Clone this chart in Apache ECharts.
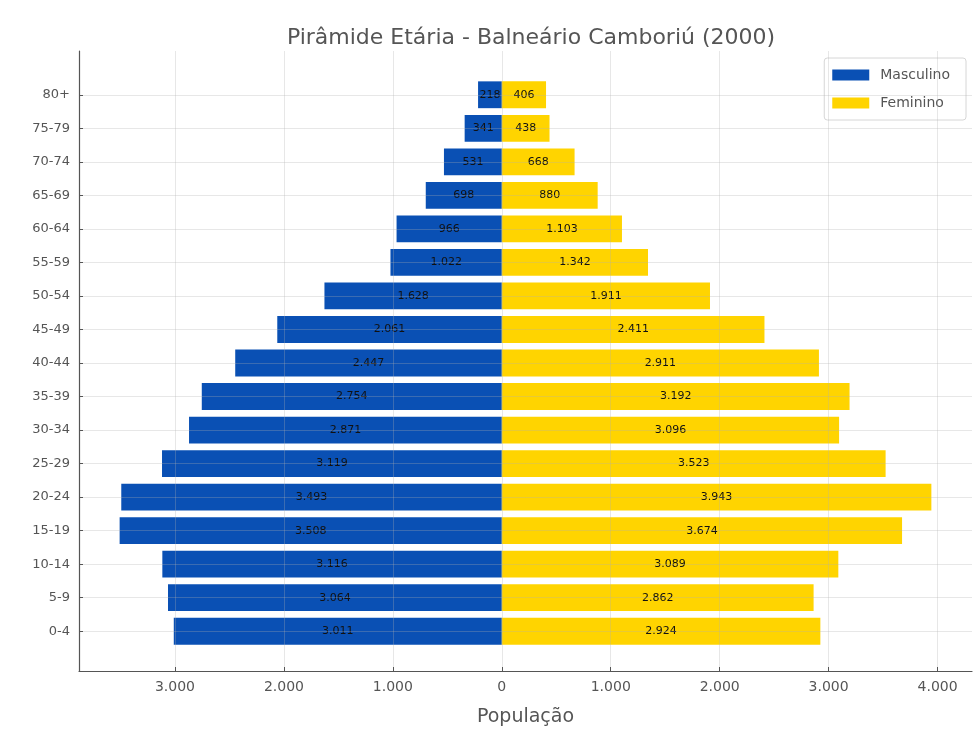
<!DOCTYPE html>
<html>
<head>
<meta charset="utf-8">
<script src="https://cdn.jsdelivr.net/npm/echarts@6/dist/echarts.min.js"></script>
<style>
  html, body { margin: 0; padding: 0; background: #fff; }
  #main { width: 975px; height: 738px; }
</style>
</head>
<body>
<div id="main"></div>
<script>
// faixas etárias, de baixo (0-4) para cima (80+)
var faixas = ['0-4', '5-9', '10-14', '15-19', '20-24', '25-29', '30-34', '35-39', '40-44',
  '45-49', '50-54', '55-59', '60-64', '65-69', '70-74', '75-79', '80+'];
var masculino = [3011, 3064, 3116, 3508, 3493, 3119, 2871, 2754, 2447,
  2061, 1628, 1022, 966, 698, 531, 341, 218];
var feminino = [2924, 2862, 3089, 3674, 3943, 3523, 3096, 3192, 2911,
  2411, 1911, 1342, 1103, 880, 668, 438, 406];

var xMin = -3881, xMax = 4316;

function fmt(v) {
  v = Math.abs(Math.round(v));
  return String(v).replace(/\B(?=(\d{3})+(?!\d))/g, '.');
}

var myChart = echarts.init(document.getElementById('main'));
myChart.setOption({
  animation: false,
  textStyle: { fontFamily: 'DejaVu Sans' },
  title: {
    text: 'Pirâmide Etária - Balneário Camboriú (2000)',
    left: 526,
    textAlign: 'center',
    top: 22,
    textStyle: { fontSize: 22, fontWeight: 'normal', color: '#555', fontFamily: 'DejaVu Sans' }
  },
  legend: {
    orient: 'vertical',
    right: 9,
    top: 58,
    data: ['Masculino', 'Feminino'],
    itemWidth: 37,
    itemHeight: 11,
    itemGap: 14,
    padding: [10, 16, 10, 8],
    borderColor: '#d6d6d6',
    borderWidth: 1,
    borderRadius: 3,
    backgroundColor: '#fff',
    icon: 'rect',
    textStyle: { fontSize: 14, color: '#555', padding: [0, 0, 0, 6] }
  },
  grid: [
    // moldura: eixos e grade vertical
    { left: 79, right: 3, top: 51, bottom: 67 },
    // barras
    { left: 79, right: 3, top: 78, bottom: 90 }
  ],
  xAxis: [
    {
      gridIndex: 0,
      type: 'value',
      min: xMin,
      max: xMax,
      splitNumber: 8,
      z: 5,
      name: 'População',
      nameLocation: 'middle',
      nameGap: 37,
      nameTextStyle: { fontSize: 19, color: '#555' },
      axisLine: { show: true, onZero: false, lineStyle: { color: '#555', width: 1.2 } },
      axisTick: { show: true, inside: true, length: 4, lineStyle: { color: '#555' } },
      axisLabel: { showMinLabel: false, showMaxLabel: false, fontSize: 14, color: '#555', margin: 9, formatter: fmt },
      splitLine: { show: true, showMinLine: false, showMaxLine: false, lineStyle: { color: 'rgba(175,175,175,0.3)', width: 1 } }
    },
    {
      gridIndex: 1,
      type: 'value',
      min: xMin,
      max: xMax,
      show: false
    }
  ],
  yAxis: [
    {
      gridIndex: 0,
      type: 'value',
      min: 0,
      max: 1,
      axisLine: { show: true, onZero: false, lineStyle: { color: '#555', width: 1.2 } },
      axisTick: { show: false },
      axisLabel: { show: false },
      splitLine: { show: false }
    },
    {
      gridIndex: 1,
      type: 'category',
      data: faixas,
      z: 5,
      axisLine: { show: false, onZero: false },
      axisTick: { show: true, inside: true, length: 4, alignWithLabel: true, lineStyle: { color: '#555' } },
      axisLabel: { fontSize: 13, color: '#555', margin: 9 },
      splitLine: { show: true, alignWithLabel: true, lineStyle: { color: 'rgba(175,175,175,0.3)', width: 1 } }
    }
  ],
  series: [
    {
      name: 'Masculino',
      type: 'bar',
      xAxisIndex: 1,
      yAxisIndex: 1,
      data: masculino.map(function (v) { return -v; }),
      barWidth: '80%',
      barGap: '-100%',
      itemStyle: { color: '#0a50b4' },
      label: {
        show: true,
        position: 'inside',
        fontSize: 11,
        color: '#111',
        formatter: function (p) { return fmt(p.value); }
      }
    },
    {
      name: 'Feminino',
      type: 'bar',
      xAxisIndex: 1,
      yAxisIndex: 1,
      data: feminino,
      barWidth: '80%',
      barGap: '-100%',
      itemStyle: { color: '#ffd400' },
      label: {
        show: true,
        position: 'inside',
        fontSize: 11,
        color: '#111',
        formatter: function (p) { return fmt(p.value); }
      }
    }
  ]
});
</script>
</body>
</html>
